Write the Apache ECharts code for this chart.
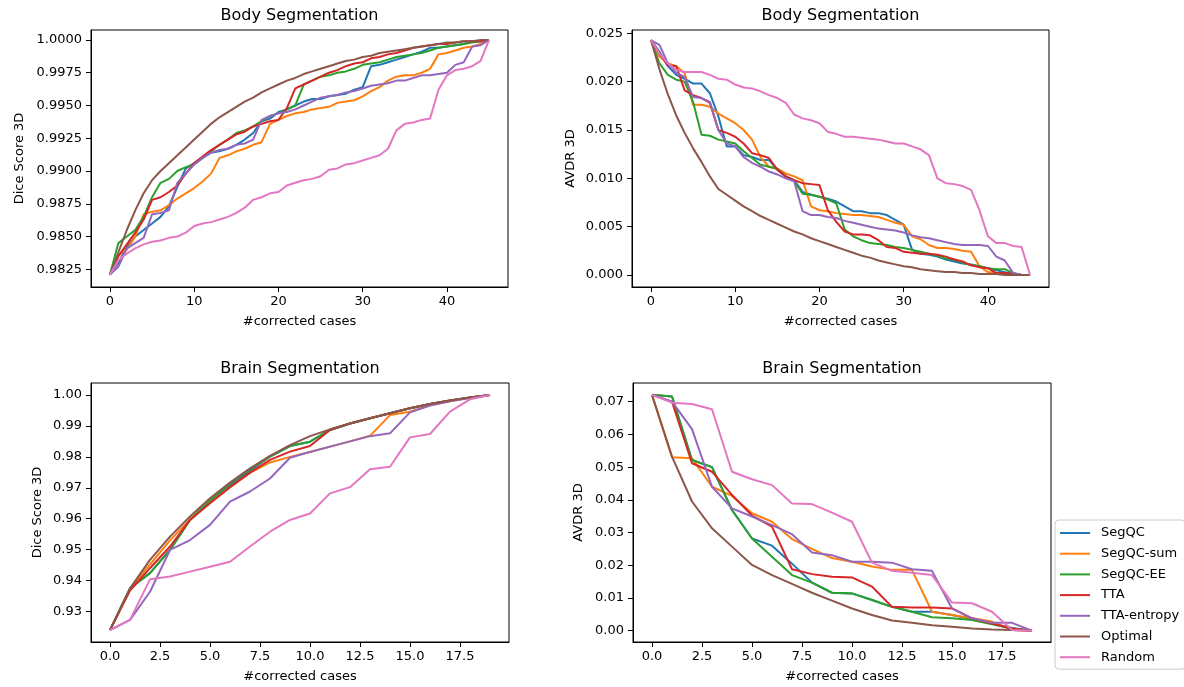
<!DOCTYPE html>
<html><head><meta charset="utf-8">
<script src="https://cdn.jsdelivr.net/npm/echarts@6/dist/echarts.min.js"></script>
<style>html,body{margin:0;padding:0;background:#fff}#c{width:1184px;height:687px}</style>
</head><body><div id="c"></div>
<script>
// ---------- names, labels ----------
const methodNames = ['SegQC', 'SegQC-sum', 'SegQC-EE', 'TTA', 'TTA-entropy', 'Optimal', 'Random'];
const panelTitles = ['Body Segmentation', 'Body Segmentation', 'Brain Segmentation', 'Brain Segmentation'];
const xAxisLabel = '#corrected cases';
const yAxisLabels = ['Dice Score 3D', 'AVDR 3D', 'Dice Score 3D', 'AVDR 3D'];

// ---------- tick labels ----------
const bodyXTicks = [0, 10, 20, 30, 40];
const brainXTicks = [0, 2.5, 5, 7.5, 10, 12.5, 15, 17.5];
const bodyDiceTicks = [0.9825, 0.9850, 0.9875, 0.9900, 0.9925, 0.9950, 0.9975, 1.0000];
const bodyAvdrTicks = [0, 0.005, 0.010, 0.015, 0.020, 0.025];
const brainDiceTicks = [0.92, 0.93, 0.94, 0.95, 0.96, 0.97, 0.98, 0.99, 1.00];
const brainAvdrTicks = [0, 0.01, 0.02, 0.03, 0.04, 0.05, 0.06, 0.07];

// ---------- Body Segmentation, Dice (cases 0..45) ----------
const bodyDiceSegQC = [0.9821,0.9830,0.9842,0.9850,0.9855,0.9860,0.9865,0.9873,0.9888,0.9902,
  0.9906,0.9910,0.9914,0.9915,0.9917,0.9920,0.9924,0.9929,0.9938,0.9940,
  0.9945,0.9947,0.9950,0.9953,0.9955,0.9955,0.9957,0.9958,0.9959,0.9962,
  0.9964,0.9980,0.9981,0.9983,0.9985,0.9987,0.9989,0.9991,0.9994,0.9994,
  0.9995,0.9996,0.9997,0.9999,0.9999,1.0000];
const bodyDiceSegQCsum = [0.9821,0.9836,0.9840,0.9850,0.9867,0.9869,0.9870,0.9874,0.9879,0.9883,
  0.9887,0.9892,0.9898,0.9910,0.9912,0.9915,0.9917,0.9920,0.9922,0.9936,
  0.9939,0.9942,0.9944,0.9945,0.9947,0.9948,0.9949,0.9952,0.9953,0.9954,
  0.9957,0.9961,0.9964,0.9969,0.9972,0.9973,0.9973,0.9975,0.9978,0.9989,
  0.9990,0.9992,0.9994,0.9995,0.9997,1.0000];
const bodyDiceSegQCEE = [0.9821,0.9845,0.9850,0.9855,0.9865,0.9880,0.9891,0.9894,0.9900,0.9903,
  0.9905,0.9910,0.9915,0.9920,0.9924,0.9929,0.9931,0.9934,0.9938,0.9942,
  0.9944,0.9947,0.9950,0.9966,0.9969,0.9972,0.9973,0.9975,0.9976,0.9978,
  0.9981,0.9982,0.9983,0.9985,0.9987,0.9988,0.9989,0.9990,0.9992,0.9994,
  0.9995,0.9996,0.9997,0.9998,0.9999,1.0000];
const bodyDiceTTA = [0.9821,0.9835,0.9844,0.9853,0.9863,0.9878,0.9880,0.9884,0.9889,0.9898,
  0.9906,0.9911,0.9916,0.9920,0.9924,0.9928,0.9930,0.9934,0.9936,0.9938,
  0.9939,0.9948,0.9963,0.9966,0.9969,0.9972,0.9975,0.9977,0.9980,0.9982,
  0.9983,0.9986,0.9987,0.9989,0.9990,0.9992,0.9994,0.9995,0.9996,0.9997,
  0.9997,0.9998,0.9999,0.9999,0.9999,1.0000];
const bodyDiceTTAentropy = [0.9821,0.9827,0.9841,0.9845,0.9849,0.9867,0.9868,0.9870,0.9891,0.9898,
  0.9905,0.9910,0.9914,0.9916,0.9917,0.9920,0.9921,0.9924,0.9939,0.9942,
  0.9944,0.9945,0.9947,0.9950,0.9953,0.9956,0.9957,0.9958,0.9960,0.9961,
  0.9963,0.9965,0.9966,0.9967,0.9969,0.9969,0.9971,0.9973,0.9973,0.9974,
  0.9975,0.9981,0.9983,0.9995,0.9996,1.0000];
const bodyDiceOptimal = [0.9821,0.9838,0.9855,0.9870,0.9883,0.9893,0.9900,0.9906,0.9912,0.9918,
  0.9924,0.9930,0.9936,0.9941,0.9945,0.9949,0.9953,0.9956,0.9960,0.9963,
  0.9966,0.9969,0.9971,0.9974,0.9976,0.9978,0.9980,0.9982,0.9984,0.9985,
  0.9987,0.9988,0.9990,0.9991,0.9992,0.9993,0.9994,0.9995,0.9996,0.9997,
  0.9998,0.9998,0.9999,0.9999,1.0000,1.0000];
const bodyDiceRandom = [0.9821,0.9832,0.9837,0.9841,0.9844,0.9846,0.9847,0.9849,0.9850,0.9853,
  0.9858,0.9860,0.9861,0.9863,0.9865,0.9868,0.9872,0.9878,0.9880,0.9883,
  0.9884,0.9889,0.9891,0.9893,0.9894,0.9896,0.9901,0.9902,0.9905,0.9906,
  0.9908,0.9910,0.9912,0.9917,0.9931,0.9936,0.9937,0.9939,0.9940,0.9962,
  0.9973,0.9977,0.9978,0.9980,0.9984,1.0000];

// ---------- Body Segmentation, AVDR (cases 0..45) ----------
const bodyAvdrSegQC = [0.0243,0.0231,0.0216,0.0207,0.0203,0.0198,0.0198,0.0188,0.0164,0.0133,
  0.0133,0.0124,0.0122,0.0119,0.0119,0.0109,0.0102,0.0098,0.0086,0.0083,
  0.0081,0.0079,0.0076,0.0071,0.0066,0.0066,0.0064,0.0064,0.0062,0.0057,
  0.0052,0.0026,0.0022,0.0021,0.0019,0.0016,0.0014,0.0012,0.0011,0.0009,
  0.0007,0.0005,0.0003,0.0001,0.0000,0.0000];
const bodyAvdrSegQCsum = [0.0243,0.0226,0.0219,0.0216,0.0209,0.0176,0.0176,0.0174,0.0167,0.0162,
  0.0157,0.0150,0.0140,0.0122,0.0112,0.0110,0.0105,0.0102,0.0098,0.0071,
  0.0067,0.0066,0.0064,0.0063,0.0062,0.0062,0.0061,0.0060,0.0057,0.0054,
  0.0052,0.0040,0.0037,0.0031,0.0028,0.0028,0.0027,0.0025,0.0024,0.0009,
  0.0003,0.0002,0.0001,0.0000,0.0000,0.0000];
const bodyAvdrSegQCEE = [0.0243,0.0219,0.0207,0.0202,0.0200,0.0179,0.0145,0.0144,0.0140,0.0138,
  0.0136,0.0128,0.0121,0.0114,0.0112,0.0110,0.0102,0.0097,0.0084,0.0083,
  0.0081,0.0078,0.0074,0.0047,0.0040,0.0036,0.0033,0.0032,0.0031,0.0029,
  0.0028,0.0026,0.0024,0.0022,0.0020,0.0017,0.0016,0.0013,0.0010,0.0009,
  0.0007,0.0006,0.0006,0.0002,0.0000,0.0000];
const bodyAvdrTTA = [0.0243,0.0229,0.0217,0.0216,0.0191,0.0186,0.0183,0.0178,0.0150,0.0147,
  0.0143,0.0136,0.0126,0.0124,0.0121,0.0109,0.0102,0.0098,0.0095,0.0094,
  0.0093,0.0067,0.0055,0.0045,0.0042,0.0042,0.0041,0.0036,0.0029,0.0028,
  0.0024,0.0023,0.0022,0.0022,0.0021,0.0019,0.0016,0.0014,0.0010,0.0008,
  0.0007,0.0002,0.0002,0.0001,0.0000,0.0000];
const bodyAvdrTTAentropy = [0.0243,0.0238,0.0219,0.0209,0.0205,0.0184,0.0183,0.0179,0.0150,0.0136,
  0.0133,0.0122,0.0116,0.0112,0.0107,0.0104,0.0100,0.0097,0.0066,0.0062,
  0.0062,0.0060,0.0059,0.0056,0.0054,0.0052,0.0050,0.0048,0.0047,0.0046,
  0.0044,0.0041,0.0039,0.0038,0.0036,0.0034,0.0032,0.0031,0.0031,0.0031,
  0.0030,0.0019,0.0015,0.0002,0.0000,0.0000];
const bodyAvdrOptimal = [0.0243,0.0213,0.0187,0.0165,0.0147,0.0131,0.0117,0.0102,0.0089,0.0083,
  0.0077,0.0071,0.0066,0.0061,0.0057,0.0053,0.0049,0.0045,0.0042,0.0038,
  0.0035,0.0032,0.0029,0.0026,0.0023,0.0020,0.0018,0.0015,0.0013,0.0011,
  0.0009,0.0008,0.0006,0.0005,0.0004,0.0003,0.0003,0.0002,0.0002,0.0001,
  0.0001,0.0001,0.0000,0.0000,0.0000,0.0000];
const bodyAvdrRandom = [0.0243,0.0229,0.0219,0.0212,0.0210,0.0210,0.0210,0.0207,0.0203,0.0202,
  0.0197,0.0194,0.0193,0.0190,0.0186,0.0183,0.0178,0.0166,0.0162,0.0160,
  0.0157,0.0148,0.0146,0.0143,0.0143,0.0142,0.0141,0.0140,0.0138,0.0136,
  0.0136,0.0133,0.0130,0.0124,0.0100,0.0095,0.0094,0.0092,0.0088,0.0067,
  0.0040,0.0033,0.0033,0.0030,0.0029,0.0000];

// ---------- Brain Segmentation, Dice (cases 0..19) ----------
const brainDiceSegQC = [0.9240,0.9375,0.9424,0.9499,0.9596,0.9658,0.9708,0.9755,0.9801,0.9835,0.9849,0.9887,0.9908,0.9925,0.9941,0.9957,0.9971,0.9982,0.9992,1.0000];
const brainDiceSegQCsum = [0.9240,0.9372,0.9452,0.9530,0.9598,0.9652,0.9702,0.9748,0.9782,0.9800,0.9816,0.9833,0.9850,0.9868,0.9935,0.9946,0.9967,0.9980,0.9991,1.0000];
const brainDiceSegQCEE = [0.9240,0.9375,0.9424,0.9499,0.9596,0.9658,0.9714,0.9760,0.9801,0.9835,0.9849,0.9887,0.9908,0.9925,0.9941,0.9957,0.9971,0.9982,0.9992,1.0000];
const brainDiceTTA = [0.9240,0.9368,0.9440,0.9510,0.9596,0.9650,0.9702,0.9749,0.9790,0.9817,0.9835,0.9887,0.9908,0.9925,0.9941,0.9957,0.9971,0.9982,0.9992,1.0000];
const brainDiceTTAentropy = [0.9240,0.9273,0.9364,0.9499,0.9531,0.9580,0.9655,0.9688,0.9730,0.9797,0.9816,0.9833,0.9850,0.9867,0.9876,0.9944,0.9966,0.9980,0.9990,1.0000];
const brainDiceOptimal = [0.9240,0.9375,0.9467,0.9542,0.9607,0.9666,0.9717,0.9763,0.9803,0.9838,0.9867,0.9889,0.9908,0.9925,0.9941,0.9957,0.9971,0.9982,0.9992,1.0000];
const brainDiceRandom = [0.9240,0.9273,0.9404,0.9413,0.9429,0.9445,0.9461,0.9510,0.9558,0.9596,0.9617,0.9682,0.9702,0.9760,0.9768,0.9863,0.9874,0.9946,0.9986,1.0000];

// ---------- Brain Segmentation, AVDR (cases 0..19) ----------
const brainAvdrSegQC = [0.0721,0.0716,0.0522,0.0500,0.0369,0.0282,0.0260,0.0205,0.0147,0.0116,0.0114,0.0094,0.0073,0.0058,0.0058,0.0048,0.0036,0.0022,0.0008,0.0000];
const brainAvdrSegQCsum = [0.0721,0.0530,0.0527,0.0440,0.0412,0.0359,0.0333,0.0280,0.0250,0.0222,0.0211,0.0196,0.0186,0.0186,0.0058,0.0048,0.0038,0.0028,0.0002,0.0000];
const brainAvdrSegQCEE = [0.0721,0.0716,0.0522,0.0500,0.0369,0.0282,0.0226,0.0170,0.0147,0.0116,0.0114,0.0094,0.0073,0.0058,0.0041,0.0038,0.0033,0.0020,0.0007,0.0000];
const brainAvdrTTA = [0.0721,0.0700,0.0512,0.0486,0.0415,0.0352,0.0318,0.0188,0.0173,0.0165,0.0163,0.0135,0.0073,0.0071,0.0071,0.0068,0.0038,0.0022,0.0007,0.0000];
const brainAvdrTTAentropy = [0.0721,0.0700,0.0616,0.0440,0.0374,0.0349,0.0323,0.0295,0.0239,0.0231,0.0211,0.0211,0.0208,0.0188,0.0183,0.0068,0.0038,0.0024,0.0024,0.0000];
const brainAvdrOptimal = [0.0721,0.0532,0.0395,0.0313,0.0257,0.0201,0.0170,0.0143,0.0116,0.0092,0.0068,0.0048,0.0031,0.0024,0.0017,0.0012,0.0007,0.0004,0.0002,0.0000];
const brainAvdrRandom = [0.0721,0.0697,0.0693,0.0677,0.0486,0.0463,0.0445,0.0389,0.0387,0.0361,0.0333,0.0208,0.0183,0.0177,0.0170,0.0086,0.0084,0.0058,0.0002,0.0000];

// ---------- styling ----------
const lineColors = ['#1f77b4', '#ff7f0e', '#2ca02c', '#d62728', '#9467bd', '#8c564b', '#e377c2'];
const FONT = 'DejaVu Sans';

const panels = [
  [bodyDiceSegQC, bodyDiceSegQCsum, bodyDiceSegQCEE, bodyDiceTTA, bodyDiceTTAentropy, bodyDiceOptimal, bodyDiceRandom],
  [bodyAvdrSegQC, bodyAvdrSegQCsum, bodyAvdrSegQCEE, bodyAvdrTTA, bodyAvdrTTAentropy, bodyAvdrOptimal, bodyAvdrRandom],
  [brainDiceSegQC, brainDiceSegQCsum, brainDiceSegQCEE, brainDiceTTA, brainDiceTTAentropy, brainDiceOptimal, brainDiceRandom],
  [brainAvdrSegQC, brainAvdrSegQCsum, brainAvdrSegQCEE, brainAvdrTTA, brainAvdrTTAentropy, brainAvdrOptimal, brainAvdrRandom]
];

const grids = [
  {left: 91, top: 30, width: 417, height: 257},
  {left: 632, top: 30, width: 417, height: 257},
  {left: 91, top: 383, width: 418, height: 259},
  {left: 633, top: 383, width: 418, height: 259}
];
const xRanges = [[-2.25, 47.25], [-2.25, 47.25], [-0.95, 19.95], [-0.95, 19.95]];
const yRanges = [[0.98115, 1.00076], [-0.00124, 0.02534], [0.92014, 1.00388], [-0.00345, 0.07572]];
const xTicks = [bodyXTicks, bodyXTicks, brainXTicks, brainXTicks];
const xDec = [0, 0, 1, 1];
const yTicks = [bodyDiceTicks, bodyAvdrTicks, brainDiceTicks, brainAvdrTicks];
const yDec = [4, 3, 2, 2];
const yNameGap = [65, 55, 47, 48];

const xAxes = [], yAxes = [], series = [], titles = [];
for (let p = 0; p < 4; p++) {
  xAxes.push({
    type: 'value', gridIndex: p, min: xRanges[p][0], max: xRanges[p][1],
    name: xAxisLabel, nameLocation: 'middle', nameGap: 28,
    nameTextStyle: {fontSize: 13, color: '#000', fontFamily: FONT},
    axisLine: {show: true, onZero: false, lineStyle: {color: '#000', width: 1}},
    axisTick: {show: true, inside: false, length: 5, customValues: xTicks[p], lineStyle: {color: '#000', width: 1}},
    axisLabel: {customValues: xTicks[p], formatter: (v) => Number(v).toFixed(xDec[p]), margin: 8,
      fontSize: 13, color: '#000', fontFamily: FONT},
    splitLine: {show: false}
  });
  yAxes.push({
    type: 'value', gridIndex: p, min: yRanges[p][0], max: yRanges[p][1],
    name: yAxisLabels[p], nameLocation: 'middle', nameGap: yNameGap[p],
    nameTextStyle: {fontSize: 13, color: '#000', fontFamily: FONT},
    axisLine: {show: true, onZero: false, lineStyle: {color: '#000', width: 1}},
    axisTick: {show: true, inside: false, length: 5, customValues: yTicks[p], lineStyle: {color: '#000', width: 1}},
    axisLabel: {customValues: yTicks[p], formatter: (v) => Number(v).toFixed(yDec[p]), margin: 9,
      fontSize: 13, color: '#000', fontFamily: FONT},
    splitLine: {show: false}
  });
  const g = grids[p];
  titles.push({
    text: panelTitles[p], left: g.left + g.width / 2, top: g.top - 22, textAlign: 'center', padding: 0,
    textStyle: {fontSize: 16, fontWeight: 'normal', color: '#000', fontFamily: FONT}
  });
  panels[p].forEach((vals, k) => {
    series.push({
      name: methodNames[k], type: 'line', xAxisIndex: p, yAxisIndex: p,
      data: vals.map((v, i) => [i, v]),
      symbol: 'none', showSymbol: false, silent: true,
      lineStyle: {color: lineColors[k], width: 2},
      itemStyle: {color: lineColors[k]},
      z: 2 + k
    });
  });
}

const chart = echarts.init(document.getElementById('c'), null, {renderer: 'canvas'});
chart.setOption({
  animation: false,
  backgroundColor: '#fff',
  title: titles,
  grid: grids.map(g => Object.assign({show: true, borderColor: '#000', borderWidth: 1, backgroundColor: 'transparent', containLabel: false}, g)),
  xAxis: xAxes,
  yAxis: yAxes,
  legend: {
    orient: 'vertical', left: 1055, top: 520,
    data: methodNames.map(n => ({name: n, icon: 'rect'})),
    itemWidth: 30, itemHeight: 2, itemGap: 6.7,
    padding: [6, 6, 5, 5],
    borderColor: '#cccccc', borderWidth: 1, borderRadius: 4,
    backgroundColor: 'rgba(255,255,255,0.8)',
    textStyle: {fontSize: 13, color: '#000', fontFamily: FONT, lineHeight: 14, padding: [0, 0, 0, 6]},
    selectedMode: false
  },
  series: series
});
</script>
</body></html>
